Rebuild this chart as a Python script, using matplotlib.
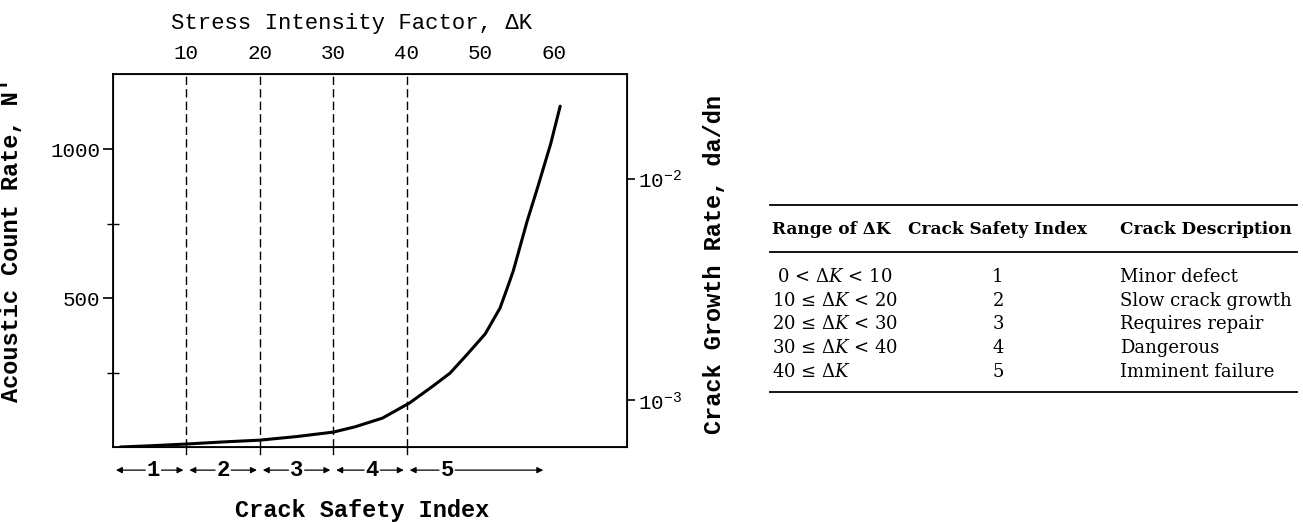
import matplotlib
matplotlib.use("Agg")
import matplotlib.pyplot as plt
from matplotlib.lines import Line2D
from matplotlib.transforms import blended_transform_factory

plt.rcParams['mathtext.fontset'] = 'custom'
plt.rcParams['mathtext.rm'] = 'DejaVu Serif'
plt.rcParams['mathtext.it'] = 'DejaVu Serif:italic'

MONO = 'Liberation Mono'
SERIF = 'DejaVu Serif'

# curve: acoustic count rate vs stress intensity factor
delta_k = [1, 5, 10, 15, 20, 25, 30, 33, 36.7, 40.4, 43.6, 45.9, 48.2,
           50.7, 52.7, 53.7, 54.5, 56.4, 57.8, 59.6, 60.9]
count_rate = [0, 4, 10, 17, 23, 35, 50, 68, 97, 148, 205, 248, 310,
              380, 466, 534, 590, 758, 869, 1017, 1144]

top_ticks = [10, 20, 30, 40, 50, 60]
boundaries = [10, 20, 30, 40]
left_major = [500, 1000]
left_minor = [250, 750]
right_ticks = [1e-3, 1e-2]
right_labels = [r'$\mathregular{10^{-3}}$', r'$\mathregular{10^{-2}}$']

# crack safety index bands below the plot
seg_lo = [0, 10, 20, 30, 40]
seg_hi = [10, 20, 30, 40, 59]
seg_mid = [5.5, 15, 25, 35.3, 45.5]
seg_text = ['1', '2', '3', '4', '5']

# table
headers = ['Range of ΔK', 'Crack Safety Index', 'Crack Description']
ranges = [r' 0 < $\Delta K$ < 10', r'10 ≤ $\Delta K$ < 20', r'20 ≤ $\Delta K$ < 30',
          r'30 ≤ $\Delta K$ < 40', r'40 ≤ $\Delta K$']
indices = ['1', '2', '3', '4', '5']
descriptions = ['Minor defect', 'Slow crack growth', 'Requires repair',
                'Dangerous', 'Imminent failure']

W, H = 1303, 522
fig = plt.figure(figsize=(W / 100, H / 100), dpi=100)


def fx(px):
    return px / W


def fy(py):
    return 1 - py / H


ax = fig.add_axes([fx(113), fy(447), fx(627) - fx(113), fy(74) - fy(447)])
ax.plot(delta_k, count_rate, color='black', lw=2.2, solid_capstyle='round',
        solid_joinstyle='round')
for b in boundaries:
    ax.axvline(b, color='black', lw=1.0, ls=(0, (6, 3)))

ax.set_xlim(0, 70)
ax.set_ylim(0, 1252)

# top axis carries the delta K ticks
ax.xaxis.tick_top()
ax.set_xticks(top_ticks)
ax.set_xticklabels([str(t) for t in top_ticks], fontfamily=MONO, fontsize=15)
ax.tick_params(axis='x', which='major', top=True, bottom=True, direction='in',
               length=0, pad=8, labeltop=True, labelbottom=False)
ax.set_yticks(left_major)
ax.set_yticks(left_minor, minor=True)
ax.set_yticklabels([str(t) for t in left_major], fontfamily=MONO, fontsize=15)
ax.tick_params(axis='y', which='major', direction='out', length=7, width=1.2, pad=2)
ax.tick_params(axis='y', which='minor', direction='inout', length=8, width=1.0)
for b in boundaries:
    ax.plot([b, b], [0, -0.02], transform=blended_transform_factory(ax.transData, ax.transAxes),
            color='black', lw=1.0, clip_on=False)

ax.set_xlabel('Stress Intensity Factor, ΔK', fontfamily=MONO, fontsize=16)
ax.xaxis.set_label_position('top')
ax.xaxis.set_label_coords(0.465, 1.12)
ax.set_ylabel("Acoustic Count Rate, N'", fontfamily=MONO, fontsize=17, fontweight='bold')
ax.yaxis.set_label_coords(-0.175, 0.555)
for s in ax.spines.values():
    s.set_linewidth(1.3)

ax2 = ax.twinx()
ax2.set_yscale('log')
ax2.set_ylim(10 ** -3.21, 10 ** -1.527)
ax2.set_yticks(right_ticks)
ax2.set_yticklabels(right_labels, fontfamily=MONO, fontsize=15)
ax2.minorticks_off()
ax2.tick_params(axis='y', direction='out', length=6, width=1.2, pad=2)
ax2.set_ylabel('Crack Growth Rate, da/dn', fontfamily=MONO, fontsize=17, fontweight='bold')
ax2.yaxis.set_label_coords(1.148, 0.49)

# band arrows under the axis
trans = blended_transform_factory(ax.transData, ax.transAxes)
y_arr = -0.062
for lo, hi, mid, txt in zip(seg_lo, seg_hi, seg_mid, seg_text):
    ap = dict(arrowstyle='-|>', lw=0.9, color='black', mutation_scale=9,
              shrinkA=0, shrinkB=0)
    ax.annotate('', xy=(lo + 0.4, y_arr), xytext=(mid - 1.1, y_arr),
                xycoords=trans, textcoords=trans, arrowprops=ap, annotation_clip=False)
    ax.annotate('', xy=(hi - 0.4, y_arr), xytext=(mid + 1.1, y_arr),
                xycoords=trans, textcoords=trans, arrowprops=ap, annotation_clip=False)
    ax.text(mid, y_arr, txt, transform=trans, ha='center', va='center',
            fontfamily=MONO, fontsize=16, fontweight='bold')
ax.text(0.485, -0.17, 'Crack Safety Index', transform=ax.transAxes, ha='center',
        va='center', fontfamily=MONO, fontsize=17, fontweight='bold')

# table on the right
for py in [205, 252, 392]:
    fig.add_artist(Line2D([fx(770), fx(1297)], [fy(py), fy(py)], color='black', lw=1.3))

col_x = [fx(772), fx(998), fx(1120)]
col_ha = ['left', 'center', 'left']
for x, ha, h in zip(col_x, col_ha, headers):
    fig.text(x, fy(230), h, ha=ha, va='center', fontfamily=SERIF, fontsize=12.2,
             fontweight='bold')
for i, (r, c, d) in enumerate(zip(ranges, indices, descriptions)):
    yy = fy(277 + i * 23.7)
    fig.text(col_x[0], yy, r, ha='left', va='center', fontfamily=SERIF, fontsize=13)
    fig.text(col_x[1], yy, c, ha='center', va='center', fontfamily=SERIF, fontsize=13)
    fig.text(col_x[2], yy, d, ha='left', va='center', fontfamily=SERIF, fontsize=13)

fig.savefig('out.png', dpi=100)
